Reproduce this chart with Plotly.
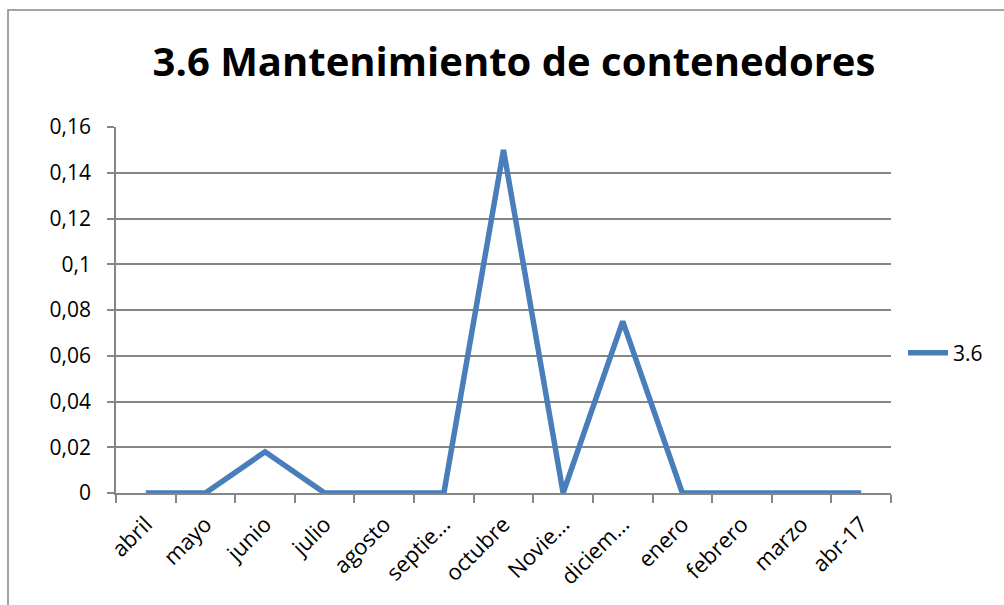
import plotly.graph_objects as go

categories = ["abril", "mayo", "junio", "julio", "agosto", "septie…", "octubre",
              "Novie…", "diciem…", "enero", "febrero", "marzo", "abr-17"]
values = [0, 0, 0.018, 0, 0, 0, 0.15, 0, 0.075, 0, 0, 0, 0]
series_name = "3.6"
title_text = "3.6 Mantenimiento de contenedores"
y_ticks = [0, 0.02, 0.04, 0.06, 0.08, 0.1, 0.12, 0.14, 0.16]
y_tick_labels = ["0", "0,02", "0,04", "0,06", "0,08", "0,1", "0,12", "0,14", "0,16"]

W, H = 1004, 605
L, R, T, B = 116, 113, 127, 112
pw, ph = W - L - R, H - T - B
FONT = "Open Sans"

fig = go.Figure()
fig.add_trace(go.Scatter(
    x=categories, y=values, mode="lines", name=series_name,
    line=dict(color="#4A7EBB", width=5.5),
))

fig.update_layout(
    width=W, height=H,
    margin=dict(l=L, r=R, t=T, b=B, autoexpand=False),
    paper_bgcolor="white", plot_bgcolor="white",
    font=dict(family=FONT, size=21, color="black"),
    title=dict(text="<b>" + title_text + "</b>", x=(514 - L) / pw, xref="paper", xanchor="center",
               y=1 - 62 / H, yanchor="middle",
               font=dict(family=FONT, size=40, color="black")),
    showlegend=True,
    legend=dict(x=(903 - L) / pw, xanchor="left", y=(H - B - 353) / ph, yanchor="middle",
                font=dict(size=21), bgcolor="rgba(0,0,0,0)", itemwidth=40),
    xaxis=dict(type="category", showgrid=False, showline=True, linecolor="#868686", linewidth=1.5,
               ticks="outside", tickson="boundaries", ticklen=8, tickcolor="#868686", tickwidth=1.5,
               tickangle=-45, tickfont=dict(size=22), ticklabelstandoff=8,
               range=[-0.5, len(categories) - 0.5]),
    yaxis=dict(range=[0, 0.16], tickvals=y_ticks, ticktext=y_tick_labels,
               showgrid=True, gridcolor="#868686", gridwidth=1.5,
               showline=True, linecolor="#868686", linewidth=1.5,
               ticks="outside", ticklen=7, tickcolor="#868686", tickwidth=1.5,
               zeroline=False, tickfont=dict(size=21), ticklabelstandoff=12),
)

fig.add_shape(type="rect", xref="paper", yref="paper",
              x0=(8 - L) / pw, x1=(W + 20 - L) / pw,
              y0=(H - B - (H + 20)) / ph, y1=(H - B - 10) / ph,
              line=dict(color="#868686", width=1.5), layer="below")

fig.write_html("out.html", config={"displayModeBar": False})

with open("out.html", "r", encoding="utf-8") as f:
    html = f.read()
html = html.replace("<body>", '<body style="margin:0;padding:0;overflow:hidden">', 1)
with open("out.html", "w", encoding="utf-8") as f:
    f.write(html)
